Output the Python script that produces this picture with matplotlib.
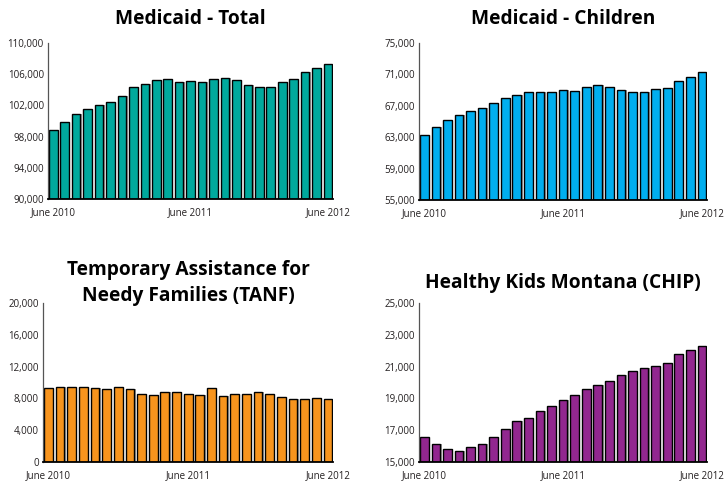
import numpy as np
import matplotlib.pyplot as plt

months = 25
xlabels = ["June 2010", "June 2011", "June 2012"]
xlabel_pos = [0, 12, 24]

medicaid_total = [98850, 99870, 100850, 101600, 102100, 102400, 103150, 104300, 104750,
                  105250, 105400, 105000, 105150, 104950, 105430, 105500, 105250, 104600,
                  104300, 104400, 105050, 105350, 106250, 106750, 107350]
medicaid_children = [63350, 64280, 65170, 65890, 66360, 66740, 67420, 68050, 68390, 68730,
                     68800, 68770, 68980, 68900, 69400, 69660, 69360, 69070, 68810, 68730,
                     69110, 69280, 70170, 70720, 71360]
tanf = [9300, 9390, 9390, 9390, 9300, 9220, 9470, 9140, 8590, 8460, 8800, 8760, 8550,
        8380, 9300, 8340, 8590, 8590, 8840, 8590, 8130, 7870, 7960, 8080, 7920]
chip = [16600, 16140, 15820, 15690, 15930, 16160, 16560, 17100, 17590, 17740, 18220,
        18540, 18890, 19230, 19570, 19860, 20090, 20490, 20710, 20920, 21060, 21210,
        21780, 22070, 22310]

panels = [
    ("Medicaid - Total", medicaid_total, "#00a99d", (90000, 110000), [90000, 94000, 98000, 102000, 106000, 110000]),
    ("Medicaid - Children", medicaid_children, "#00aeef", (55000, 75000), [55000, 59000, 63000, 67000, 71000, 75000]),
    ("Temporary Assistance for\nNeedy Families (TANF)", tanf, "#f7941d", (0, 20000), [0, 4000, 8000, 12000, 16000, 20000]),
    ("Healthy Kids Montana (CHIP)", chip, "#92278f", (15000, 25000), [15000, 17000, 19000, 21000, 23000, 25000]),
]

# axes rectangles in figure fractions
rects = [
    [0.0663, 0.5914, 0.3937, 0.3203],
    [0.5787, 0.5890, 0.3978, 0.3227],
    [0.0594, 0.0513, 0.4006, 0.3265],
    [0.5787, 0.0513, 0.3978, 0.3265],
]
title_y = [0.962, 0.962, 0.419, 0.418]

plt.rcParams['font.family'] = ['Open Sans', 'DejaVu Sans']

fig = plt.figure(figsize=(7.24, 4.87), dpi=100)
x = np.arange(months)

for (title, vals, color, ylim, yticks), rect, ty in zip(panels, rects, title_y):
    ax = fig.add_axes(rect)
    vals = np.array(vals)
    base = ylim[0]
    # shadow
    ax.bar(x + 0.12, vals - base, bottom=base, width=0.75, color="#9a9a9a", linewidth=0, zorder=1)
    ax.bar(x, vals - base, bottom=base, width=0.75, color=color,
           edgecolor="black", linewidth=1.0, zorder=2)
    ax.set_xlim(-0.46, 24.44)
    ax.set_ylim(*ylim)
    ax.set_yticks(yticks)
    ax.set_yticklabels([f"{t:,}" for t in yticks])
    ax.set_xticks(xlabel_pos)
    ax.set_xticklabels(xlabels)
    ax.tick_params(length=0, labelsize=7, colors="#231f20")
    ax.tick_params(axis='x', pad=6)
    ax.tick_params(axis='y', pad=3)
    for s in ["top", "right"]:
        ax.spines[s].set_visible(False)
    ax.spines["left"].set_color("#555555")
    ax.spines["left"].set_linewidth(0.9)
    ax.spines["bottom"].set_color("black")
    ax.spines["bottom"].set_linewidth(1.3)
    ax.spines["bottom"].set_zorder(3)
    cx = rect[0] + rect[2] / 2
    fig.text(cx, ty, title, ha="center", va="center", fontsize=13.8,
             fontweight="bold", linespacing=1.4)

fig.savefig("out.png", dpi=100)
